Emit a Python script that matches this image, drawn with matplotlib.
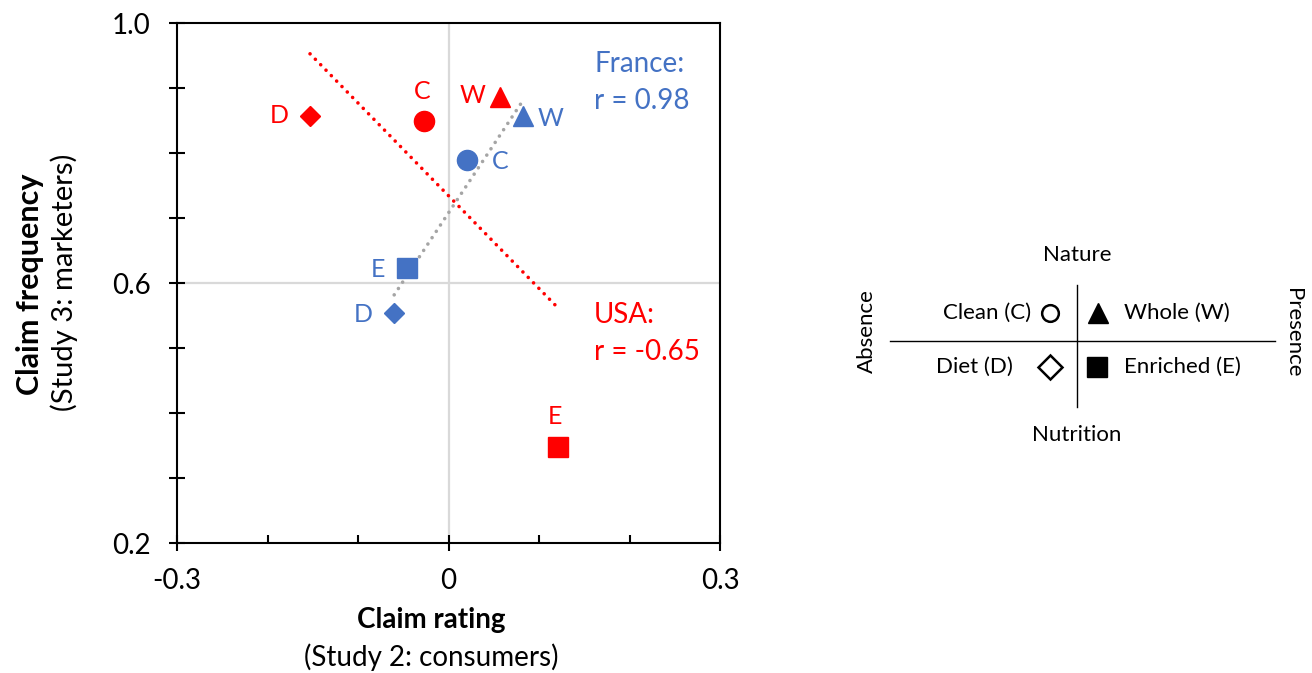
import numpy as np
import matplotlib
matplotlib.use("Agg")
import matplotlib.pyplot as plt
from matplotlib.ticker import FixedLocator, FixedFormatter

plt.rcParams['font.family'] = ['Lato', 'DejaVu Sans']

# claims: Clean, Whole, Diet, Enriched
claims = ['C', 'W', 'D', 'E']
markers = ['o', '^', 'D', 's']
usa_x = [-0.027, 0.057, -0.153, 0.121]
usa_y = [0.849, 0.886, 0.857, 0.348]
fr_x = [0.020, 0.082, -0.060, -0.046]
fr_y = [0.789, 0.857, 0.554, 0.623]
usa_r = -0.65
fr_r = 0.98

RED = '#FF0000'
BLUE = '#4472C4'
GRAY = '#A5A5A5'

fig = plt.figure(figsize=(13.12, 6.73), dpi=100)
ax = fig.add_axes([177/1312, 1-543/673, (720-177)/1312, (543-23)/673])
ax.set_xlim(-0.3, 0.3)
ax.set_ylim(0.2, 1.0)

ax.axvline(0, color='#D9D9D9', lw=1.6, zorder=0)
ax.axhline(0.6, color='#D9D9D9', lw=1.6, zorder=0)

# trend lines
for xs, ys, col in [(usa_x, usa_y, RED), (fr_x, fr_y, GRAY)]:
    k, b = np.polyfit(xs, ys, 1)
    xx = np.array([min(xs), max(xs)])
    ax.plot(xx, k*xx + b, color=col, lw=2.6, linestyle=(0, (0.01, 2.1)),
            dash_capstyle='round', zorder=1)

sizes = {'o': 14.5, '^': 14.5, 'D': 10.5, 's': 14}
for i, m in enumerate(markers):
    ax.plot(usa_x[i], usa_y[i], marker=m, color=RED, ms=sizes[m], ls='none', zorder=3)
    ax.plot(fr_x[i], fr_y[i], marker=m, color=BLUE, ms=sizes[m], ls='none', zorder=3)

# point labels (offsets in points)
usa_off = {'C': (-1, 21), 'W': (-20, 1), 'D': (-22, 0), 'E': (-2, 22)}
fr_off = {'C': (24, -1), 'W': (20, -2), 'D': (-22, -1), 'E': (-21, -1)}
for i, c in enumerate(claims):
    ax.annotate(c, (usa_x[i], usa_y[i]), xytext=usa_off[c], textcoords='offset points',
                ha='center', va='center', color=RED, fontsize=18)
    ax.annotate(c, (fr_x[i], fr_y[i]), xytext=fr_off[c], textcoords='offset points',
                ha='center', va='center', color=BLUE, fontsize=18)

ax.text(0.161, 0.9085, 'France:\nr = %.2f' % fr_r, color=BLUE, fontsize=20,
        ha='left', va='center', linespacing=1.5)
ax.text(0.161, 0.5223, 'USA:\nr = %.2f' % usa_r, color=RED, fontsize=20,
        ha='left', va='center', linespacing=1.5)

# ticks
ax.xaxis.set_major_locator(FixedLocator([-0.3, 0, 0.3]))
ax.xaxis.set_major_formatter(FixedFormatter(['-0.3', '0', '0.3']))
ax.xaxis.set_minor_locator(FixedLocator([-0.2, -0.1, 0.1, 0.2]))
ax.yaxis.set_major_locator(FixedLocator([0.2, 0.6, 1.0]))
ax.yaxis.set_major_formatter(FixedFormatter(['0.2', '0.6', '1.0']))
ax.yaxis.set_minor_locator(FixedLocator([0.3, 0.4, 0.5, 0.7, 0.8, 0.9]))
ax.tick_params(axis='x', which='major', direction='inout', length=12, width=1.5,
               labelsize=20, pad=12)
ax.tick_params(axis='x', which='minor', direction='in', length=6, width=1.5)
ax.tick_params(axis='y', which='both', direction='inout', length=12, width=1.5,
               labelsize=20, pad=13)
for s in ax.spines.values():
    s.set_linewidth(1.5)
    s.set_color('black')

# axis titles
fig.text(431/1312, 1-620/673, 'Claim rating', ha='center', va='center',
         fontsize=20, fontweight='bold')
fig.text(431/1312, 1-657/673, '(Study 2: consumers)', ha='center', va='center',
         fontsize=20)
fig.text(30/1312, 1-284/673, 'Claim frequency', ha='center', va='center',
         fontsize=22, fontweight='bold', rotation=90)
fig.text(64/1312, 1-282/673, '(Study 3: marketers)', ha='center', va='center',
         fontsize=21, rotation=90)

# key diagram on the right
kx = fig.add_axes([0, 0, 1, 1])
kx.set_xlim(0, 1312)
kx.set_ylim(673, 0)
kx.axis('off')
kx.plot([1077, 1077], [285, 407], color='black', lw=1.0)
kx.plot([890, 1275], [341, 341], color='black', lw=1.0)
kx.text(1077, 255, 'Nature', ha='center', va='center', fontsize=16)
kx.text(1077, 435, 'Nutrition', ha='center', va='center', fontsize=16)
kx.text(867, 331, 'Absence', ha='center', va='center', fontsize=16, rotation=90)
kx.text(1293, 333, 'Presence', ha='center', va='center', fontsize=16, rotation=-90)
kx.text(1031, 313, 'Clean (C)', ha='right', va='center', fontsize=16)
kx.text(1013, 367, 'Diet (D)', ha='right', va='center', fontsize=16)
kx.text(1124, 313, 'Whole (W)', ha='left', va='center', fontsize=16)
kx.text(1124, 367, 'Enriched (E)', ha='left', va='center', fontsize=16)
kx.plot(1050, 313, marker='o', ms=12, mfc='white', mec='black', mew=1.8)
kx.plot(1050, 367, marker='D', ms=12, mfc='white', mec='black', mew=1.8)
kx.plot(1098, 313, marker='^', ms=14, color='black')
kx.plot(1097, 367, marker='s', ms=14, color='black')

fig.savefig('out.png', dpi=100)
